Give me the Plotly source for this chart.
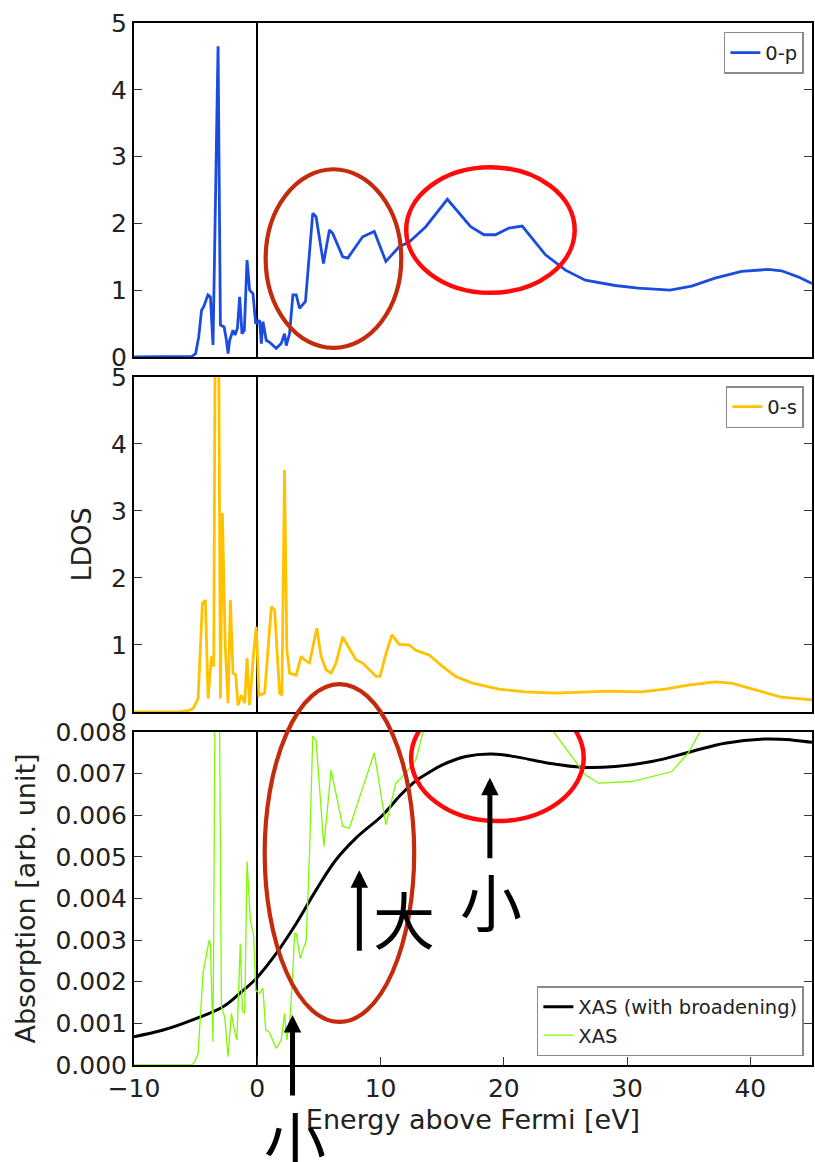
import plotly.graph_objects as go

# ---------------- data ----------------
# O p-projected LDOS
energy_p = [-10, -6, -5.3, -5.0, -4.75, -4.52, -4.35, -4.0, -3.8, -3.59, -3.18, -2.99, -2.69, -2.5,
            -2.37, -2.24, -1.97, -1.8, -1.61, -1.43, -1.24, -1.05, -0.83, -0.62, -0.35, -0.13, 0.19,
            0.33, 0.46, 0.73, 1.0, 1.54, 1.94, 2.21, 2.35, 2.62, 2.89, 3.16, 3.43, 3.91, 4.5, 4.77,
            5.37, 5.85, 6.12, 6.93, 7.34, 8.55, 9.49, 10.43, 11.51, 12.32, 13.67, 15.42, 17.31,
            18.39, 19.33, 20.41, 21.49, 23.38, 25.0, 26.61, 29.04, 30.9, 33.49, 35.24, 37.13, 39.28,
            41.44, 42.52, 43.87, 45.0]
ldos_p = [0, 0, 0.01, 0.05, 0.3, 0.70, 0.75, 0.93, 0.90, 0.18, 4.65, 0.48, 0.45, 0.25,
          0.05, 0.25, 0.40, 0.33, 0.43, 0.90, 0.35, 0.40, 1.45, 1.00, 0.95, 0.50, 0.55,
          0.20, 0.53, 0.25, 0.22, 0.13, 0.20, 0.35, 0.17, 0.35, 0.93, 0.93, 0.73, 0.83, 2.15, 2.10,
          1.40, 1.90, 1.85, 1.50, 1.48, 1.80, 1.88, 1.43, 1.65, 1.72, 1.95, 2.36, 1.95,
          1.83, 1.83, 1.93, 1.96, 1.53, 1.30, 1.15, 1.07, 1.03, 1.00, 1.06, 1.18, 1.28,
          1.31, 1.29, 1.20, 1.10]

# O s-projected LDOS
energy_s = [-10, -6.3, -5.6, -5.2, -4.8, -4.45, -4.21, -3.99, -3.72, -3.53, -3.4, -3.15, -2.99,
            -2.83, -2.6, -2.37, -2.18, -1.97, -1.75, -1.56, -1.29, -1.02, -0.83, -0.62, -0.3, -0.08,
            0.14, 0.6, 1.14, 1.41, 1.81, 2.0, 2.21, 2.4, 2.62, 3.16, 3.56, 3.83, 4.24, 4.83, 5.18,
            5.58, 5.99, 6.39, 6.93, 7.47, 8.0, 8.55, 9.09, 9.63, 9.96, 10.38, 10.92, 11.51, 12.32,
            12.86, 13.94, 15.02, 16.1, 17.45, 19.6, 21.76, 24.19, 26.35, 28.5, 31.2, 33.09, 34.97,
            37.13, 38.48, 40.63, 42.52, 45.0]
ldos_s = [0, 0, 0.02, 0.05, 0.2, 1.62, 1.67, 0.2, 0.83, 0.68, 6.5, 6.5, 0.2,
          2.97, 1.0, 0.13, 1.67, 0.58, 0.55, 0.1, 0.25, 0.13, 0.80, 0.1, 0.88, 1.27,
          0.25, 0.28, 1.57, 1.52, 0.28, 0.25, 3.61, 0.93, 0.58, 0.55, 0.83, 0.78, 0.73, 1.25, 0.83,
          0.63, 0.58, 0.73, 1.12, 0.95, 0.78, 0.73, 0.63, 0.53, 0.53, 0.83, 1.15, 1.01, 1.0,
          0.92, 0.85, 0.68, 0.53, 0.43, 0.34, 0.30, 0.28, 0.30, 0.31, 0.30, 0.34, 0.40,
          0.45, 0.43, 0.32, 0.22, 0.18]

# XAS with broadening
energy_xas_b = [-10, -7.63, -4.93, -2.78, -1.43, -0.08, 1.54, 3.16, 4.77, 6.39, 8.0, 10.16,
                11.51, 12.32, 13.13, 13.94, 15.02, 16.91, 19.06, 21.22, 23.65, 26.35, 29.04, 32.0,
                35.24, 37.93, 41.17, 43.33, 45.0]
xas_b = [0.00068, 0.00084, 0.00112, 0.0014, 0.00172, 0.00208, 0.00268, 0.0034, 0.0042,
         0.00493, 0.00545, 0.006, 0.00645, 0.00669, 0.00688, 0.00703, 0.00721, 0.00741, 0.00747,
         0.00739, 0.00725, 0.00715, 0.00717, 0.00729, 0.00753, 0.00773, 0.00783, 0.00781, 0.00775]

# XAS without broadening
energy_xas = [-10, -5.3, -5.07, -4.8, -4.4, -4.26, -3.91, -3.8, -3.59, -3.35, -3.15, -2.91, -2.64,
              -2.37, -2.1, -1.83, -1.65, -1.38, -1.21, -1.02, -0.83, -0.56, -0.29, -0.13, 0.19,
              0.46, 0.68, 0.95, 1.54, 1.94, 2.21, 2.4, 2.67, 2.89, 3.03, 3.16, 3.48, 3.97, 4.24,
              4.5, 4.77, 5.4, 5.99, 6.93, 7.47, 9.49, 10.43, 11.24, 12.05, 12.86, 13.4, 14.5, 16.5,
              19.0, 21.5, 23.2, 24.05, 25.54, 26.61, 27.69, 30.39, 33.63, 34.97, 35.9, 38.0, 41.0,
              45.0]
xas = [0, 0, 0.00008, 0.00028, 0.0022, 0.00245, 0.003, 0.0029, 0.00056, 0.0125, 0.0125, 0.0014,
       0.00115, 0.0002, 0.00124, 0.0008, 0.0006, 0.00292, 0.0013, 0.00124, 0.00489, 0.00348,
       0.0031, 0.0018, 0.00172, 0.00184, 0.00084, 0.0008, 0.0004, 0.0006, 0.00124, 0.0006,
       0.00116, 0.00228, 0.00316, 0.00316, 0.00256, 0.003, 0.0051, 0.0079, 0.0078, 0.00525,
       0.00709, 0.00573, 0.00569, 0.0075, 0.00577, 0.00677, 0.00701, 0.00733, 0.0079, 0.0092,
       0.0098, 0.0095, 0.0093, 0.0088, 0.0080, 0.00741, 0.00697, 0.00677, 0.00681, 0.00705,
       0.0075, 0.0080, 0.0088, 0.0092, 0.009]

x_ticks = [-10, 0, 10, 20, 30, 40]

# ---------------- styling ----------------
FONT = "DejaVu Sans"
TXT = "#222222"
DARK_RED = "#C42A0C"
RED = "#FF0A0A"

fig = go.Figure()
fig.add_trace(go.Scatter(x=energy_p, y=ldos_p, mode="lines", name="0-p",
                         line=dict(color="#1A4CE0", width=2.8), xaxis="x", yaxis="y",
                         legend="legend"))
fig.add_trace(go.Scatter(x=energy_s, y=ldos_s, mode="lines", name="0-s",
                         line=dict(color="#FFC200", width=2.8), xaxis="x2", yaxis="y2",
                         legend="legend2"))
fig.add_trace(go.Scatter(x=energy_xas_b, y=xas_b, mode="lines", name="XAS (with broadening)",
                         line=dict(color="black", width=3, shape="spline", smoothing=1.1),
                         xaxis="x3", yaxis="y3", legend="legend3"))
fig.add_trace(go.Scatter(x=energy_xas, y=xas, mode="lines", name="XAS",
                         line=dict(color="#7CFC00", width=1.3), xaxis="x3", yaxis="y3",
                         legend="legend3"))

frame = dict(showline=True, linecolor="black", linewidth=2, mirror=True, showgrid=False)
xcommon = dict(range=[-10, 45], zeroline=True, zerolinecolor="black", zerolinewidth=1.5, **frame)
ycommon = dict(ticks="inside", ticklen=8, tickwidth=1.2, tickcolor="#333", zeroline=False,
               tickfont=dict(family=FONT, size=25, color=TXT), **frame)
ycommon["mirror"] = "allticks"

legend_style = dict(bgcolor="white", bordercolor="#8a8a8a", borderwidth=1.5,
                    font=dict(family=FONT, size=19.5, color=TXT), xanchor="right",
                    itemwidth=30)

fig.update_layout(
    width=815, height=1162,
    margin=dict(l=134, r=1, t=23, b=97, pad=0),
    paper_bgcolor="white", plot_bgcolor="white",
    showlegend=True,
    xaxis=dict(domain=[0, 1], anchor="y", showticklabels=False, ticks="", **xcommon),
    xaxis2=dict(domain=[0, 1], anchor="y2", showticklabels=False, ticks="", **xcommon),
    xaxis3=dict(domain=[0, 1], anchor="y3", tickvals=x_ticks, ticks="inside", ticklen=8,
                tickwidth=1.2, tickcolor="#333",
                tickfont=dict(family=FONT, size=25, color=TXT),
                title=dict(text="Energy above Fermi [eV]", standoff=8,
                           font=dict(family=FONT, size=27, color=TXT)),
                **xcommon),
    yaxis=dict(domain=[0.6795, 1.0], anchor="x", range=[0, 5], dtick=1, **ycommon),
    yaxis2=dict(domain=[0.3388, 0.6603], anchor="x2", range=[0, 5], dtick=1,
                title=dict(text="LDOS", standoff=12, font=dict(family=FONT, size=27, color=TXT)),
                **ycommon),
    yaxis3=dict(domain=[0, 0.3196], anchor="x3", range=[0, 0.008], dtick=0.001,
                tickformat=".3f",
                title=dict(text="Absorption [arb. unit]", standoff=12,
                           font=dict(family=FONT, size=27, color=TXT)),
                **ycommon),
    legend=dict(x=0.988, y=0.9914, yanchor="top", **legend_style),
    legend2=dict(x=0.988, y=0.6516, yanchor="top", **legend_style),
    legend3=dict(x=0.988, y=0.0086, yanchor="bottom", **legend_style),
)

# highlight ellipses
fig.add_shape(type="circle", xref="x", yref="y", x0=0.68, x1=11.68, y0=0.135, y1=2.81,
              line=dict(color=DARK_RED, width=4.2))
fig.add_shape(type="circle", xref="x", yref="y", x0=12.08, x1=25.75, y0=0.96, y1=2.84,
              line=dict(color=RED, width=4.5))
fig.add_shape(type="circle", xref="x3", yref="paper", x0=0.60, x1=12.73, y0=0.0413, y1=0.3656,
              line=dict(color=DARK_RED, width=4.2))
fig.add_shape(type="circle", xref="x3", yref="y3", x0=12.48, x1=26.48, y0=0.00586, y1=0.00891,
              line=dict(color=RED, width=4.5))

# arrows
arrow = dict(showarrow=True, arrowhead=2, arrowsize=0.7, arrowwidth=5, arrowcolor="black",
             axref="pixel", ayref="pixel", ax=0, ay=82, text="")
fig.add_annotation(x=8.28, y=0.00468, xref="x3", yref="y3", **arrow)
fig.add_annotation(x=18.87, y=0.0069, xref="x3", yref="y3", **arrow)
fig.add_annotation(x=2.86, y=0.0012, xref="x3", yref="y3", **arrow)

# labels next to the arrows
cjk = dict(family="Noto Sans CJK SC", size=62, color="black")
fig.add_annotation(x=11.92, y=0.00353, xref="x3", yref="y3", text="大", showarrow=False,
                   font=cjk, xanchor="center", yanchor="middle")
fig.add_annotation(x=18.96, y=0.00396, xref="x3", yref="y3", text="小", showarrow=False,
                   font=cjk, xanchor="center", yanchor="middle")
fig.add_annotation(x=3.02, y=-0.070, xref="x3", yref="paper", text="小", showarrow=False,
                   font=cjk, xanchor="center", yanchor="middle")

fig.write_html("out.html")
